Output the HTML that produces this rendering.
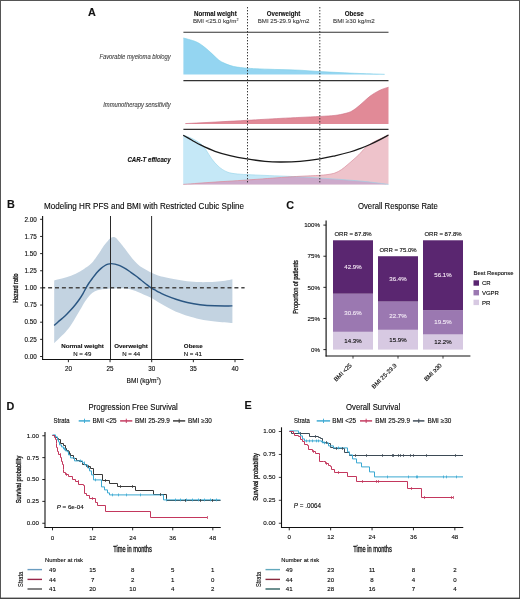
<!DOCTYPE html>
<html><head><meta charset="utf-8"><style>
html,body{margin:0;padding:0;background:#fff;width:520px;height:599px;overflow:hidden}
svg{display:block;font-family:"Liberation Sans", sans-serif;will-change:transform}
</style></head><body>
<svg width="520" height="599" viewBox="0 0 520 599">
<rect width="520" height="599" fill="#fff"/>
<text x="88.00" y="15.70" font-size="10.8" font-weight="bold" fill="#111" stroke="#111" stroke-width="0.12">A</text>
<text x="215.40" y="15.80" font-size="6.4" text-anchor="middle" font-weight="bold" fill="#111" stroke="#111" stroke-width="0.12" textLength="42.6" lengthAdjust="spacingAndGlyphs">Normal weight</text>
<text x="192.90" y="23.30" font-size="6.2" fill="#3a3a3a" stroke="#3a3a3a" stroke-width="0.1">BMI &lt;25.0 kg/m<tspan font-size="3.7" dy="-2.5">2</tspan></text>
<text x="283.50" y="15.80" font-size="6.4" text-anchor="middle" font-weight="bold" fill="#111" stroke="#111" stroke-width="0.12" textLength="33.4" lengthAdjust="spacingAndGlyphs">Overweight</text>
<text x="283.60" y="23.40" font-size="6.2" text-anchor="middle" fill="#3a3a3a" stroke="#3a3a3a" stroke-width="0.1" textLength="51.8" lengthAdjust="spacingAndGlyphs">BMI 25-29.9 kg/m2</text>
<text x="354.20" y="15.80" font-size="6.4" text-anchor="middle" font-weight="bold" fill="#111" stroke="#111" stroke-width="0.12" textLength="19.0" lengthAdjust="spacingAndGlyphs">Obese</text>
<text x="353.90" y="23.40" font-size="6.2" text-anchor="middle" fill="#3a3a3a" stroke="#3a3a3a" stroke-width="0.1" textLength="41.8" lengthAdjust="spacingAndGlyphs">BMI ≥30 kg/m2</text>
<text x="170.80" y="58.80" font-size="6.8" text-anchor="end" font-style="italic" fill="#3c3c3c" stroke="#3c3c3c" stroke-width="0.1" textLength="71.4" lengthAdjust="spacingAndGlyphs">Favorable myeloma biology</text>
<text x="170.80" y="107.40" font-size="6.8" text-anchor="end" font-style="italic" fill="#3c3c3c" stroke="#3c3c3c" stroke-width="0.1" textLength="67.6" lengthAdjust="spacingAndGlyphs">Immunotherapy sensitivity</text>
<text x="170.60" y="161.70" font-size="6.6" text-anchor="end" font-weight="bold" font-style="italic" fill="#111" stroke="#111" stroke-width="0.12" textLength="43.2" lengthAdjust="spacingAndGlyphs">CAR-T efficacy</text>
<path d="M183.40,38.00 C185.40,38.58 192.13,40.17 195.40,41.50 C198.67,42.83 200.43,44.15 203.00,46.00 C205.57,47.85 208.47,50.52 210.80,52.60 C213.13,54.68 214.97,56.83 217.00,58.50 C219.03,60.17 220.20,61.27 223.00,62.60 C225.80,63.93 229.68,65.57 233.80,66.50 C237.92,67.43 243.33,67.80 247.70,68.20 C252.07,68.60 254.62,68.67 260.00,68.90 C265.38,69.13 273.33,69.38 280.00,69.60 C286.67,69.82 293.33,69.87 300.00,70.20 C306.67,70.53 313.33,71.20 320.00,71.60 C326.67,72.00 333.33,72.28 340.00,72.60 C346.67,72.92 352.57,73.22 360.00,73.50 C367.43,73.78 380.50,74.17 384.60,74.30 L384.6,74.6 L183.4,74.6 Z" fill="#94d5f1" stroke="none" stroke-width="1" />
<path d="M183.40,38.00 C185.40,38.58 192.13,40.17 195.40,41.50 C198.67,42.83 200.43,44.15 203.00,46.00 C205.57,47.85 208.47,50.52 210.80,52.60 C213.13,54.68 214.97,56.83 217.00,58.50 C219.03,60.17 220.20,61.27 223.00,62.60 C225.80,63.93 229.68,65.57 233.80,66.50 C237.92,67.43 243.33,67.80 247.70,68.20 C252.07,68.60 254.62,68.67 260.00,68.90 C265.38,69.13 273.33,69.38 280.00,69.60 C286.67,69.82 293.33,69.87 300.00,70.20 C306.67,70.53 313.33,71.20 320.00,71.60 C326.67,72.00 333.33,72.28 340.00,72.60 C346.67,72.92 352.57,73.22 360.00,73.50 C367.43,73.78 380.50,74.17 384.60,74.30" fill="none" stroke="#78cce6" stroke-width="0.6" />
<path d="M185.40,123.60 C191.17,123.30 209.65,122.35 220.00,121.80 C230.35,121.25 237.50,120.87 247.50,120.30 C257.50,119.73 271.25,118.88 280.00,118.40 C288.75,117.92 293.33,117.73 300.00,117.40 C306.67,117.07 314.17,116.73 320.00,116.40 C325.83,116.07 330.83,115.88 335.00,115.40 C339.17,114.92 342.17,114.23 345.00,113.50 C347.83,112.77 349.50,112.42 352.00,111.00 C354.50,109.58 357.00,107.47 360.00,105.00 C363.00,102.53 366.67,98.67 370.00,96.20 C373.33,93.73 376.92,91.70 380.00,90.20 C383.08,88.70 387.08,87.70 388.50,87.20 L388.5,123.9 L185.4,123.9 Z" fill="#e18a97" stroke="none" stroke-width="1" />
<path d="M185.40,123.60 C191.17,123.30 209.65,122.35 220.00,121.80 C230.35,121.25 237.50,120.87 247.50,120.30 C257.50,119.73 271.25,118.88 280.00,118.40 C288.75,117.92 293.33,117.73 300.00,117.40 C306.67,117.07 314.17,116.73 320.00,116.40 C325.83,116.07 330.83,115.88 335.00,115.40 C339.17,114.92 342.17,114.23 345.00,113.50 C347.83,112.77 349.50,112.42 352.00,111.00 C354.50,109.58 357.00,107.47 360.00,105.00 C363.00,102.53 366.67,98.67 370.00,96.20 C373.33,93.73 376.92,91.70 380.00,90.20 C383.08,88.70 387.08,87.70 388.50,87.20" fill="none" stroke="#cc6a80" stroke-width="0.6" />
<defs><clipPath id="cb3"><path d="M183.20,135.20 C184.67,135.75 189.03,137.03 192.00,138.50 C194.97,139.97 198.67,142.08 201.00,144.00 C203.33,145.92 204.22,147.53 206.00,150.00 C207.78,152.47 209.87,156.30 211.70,158.80 C213.53,161.30 215.23,163.23 217.00,165.00 C218.77,166.77 220.47,168.18 222.30,169.40 C224.13,170.62 225.88,171.58 228.00,172.30 C230.12,173.02 231.83,173.32 235.00,173.70 C238.17,174.08 242.00,174.32 247.00,174.60 C252.00,174.88 258.67,175.13 265.00,175.40 C271.33,175.67 277.50,175.87 285.00,176.20 C292.50,176.53 300.83,176.87 310.00,177.40 C319.17,177.93 330.83,178.72 340.00,179.40 C349.17,180.08 356.92,180.67 365.00,181.50 C373.08,182.33 384.58,183.92 388.50,184.40 L388.5,184.6 L183.2,184.6 Z"/></clipPath></defs>
<path d="M183.20,135.20 C184.67,135.75 189.03,137.03 192.00,138.50 C194.97,139.97 198.67,142.08 201.00,144.00 C203.33,145.92 204.22,147.53 206.00,150.00 C207.78,152.47 209.87,156.30 211.70,158.80 C213.53,161.30 215.23,163.23 217.00,165.00 C218.77,166.77 220.47,168.18 222.30,169.40 C224.13,170.62 225.88,171.58 228.00,172.30 C230.12,173.02 231.83,173.32 235.00,173.70 C238.17,174.08 242.00,174.32 247.00,174.60 C252.00,174.88 258.67,175.13 265.00,175.40 C271.33,175.67 277.50,175.87 285.00,176.20 C292.50,176.53 300.83,176.87 310.00,177.40 C319.17,177.93 330.83,178.72 340.00,179.40 C349.17,180.08 356.92,180.67 365.00,181.50 C373.08,182.33 384.58,183.92 388.50,184.40 L388.5,184.6 L183.2,184.6 Z" fill="#c5e8f7" stroke="none" stroke-width="1" />
<path d="M183.20,184.40 C187.67,184.07 199.37,183.13 210.00,182.40 C220.63,181.67 234.50,180.87 247.00,180.00 C259.50,179.13 276.17,177.82 285.00,177.20 C293.83,176.58 294.17,176.62 300.00,176.30 C305.83,175.98 315.00,175.65 320.00,175.30 C325.00,174.95 327.33,174.65 330.00,174.20 C332.67,173.75 334.08,173.37 336.00,172.60 C337.92,171.83 339.67,170.83 341.50,169.60 C343.33,168.37 345.08,166.80 347.00,165.20 C348.92,163.60 351.03,161.73 353.00,160.00 C354.97,158.27 356.87,156.72 358.80,154.80 C360.73,152.88 362.98,150.10 364.60,148.50 C366.22,146.90 366.77,146.42 368.50,145.20 C370.23,143.98 372.92,142.32 375.00,141.20 C377.08,140.08 378.75,139.53 381.00,138.50 C383.25,137.47 387.25,135.58 388.50,135.00 L388.5,184.6 L183.2,184.6 Z" fill="#eec3cb" stroke="none" stroke-width="1" />
<path d="M183.20,184.40 C187.67,184.07 199.37,183.13 210.00,182.40 C220.63,181.67 234.50,180.87 247.00,180.00 C259.50,179.13 276.17,177.82 285.00,177.20 C293.83,176.58 294.17,176.62 300.00,176.30 C305.83,175.98 315.00,175.65 320.00,175.30 C325.00,174.95 327.33,174.65 330.00,174.20 C332.67,173.75 334.08,173.37 336.00,172.60 C337.92,171.83 339.67,170.83 341.50,169.60 C343.33,168.37 345.08,166.80 347.00,165.20 C348.92,163.60 351.03,161.73 353.00,160.00 C354.97,158.27 356.87,156.72 358.80,154.80 C360.73,152.88 362.98,150.10 364.60,148.50 C366.22,146.90 366.77,146.42 368.50,145.20 C370.23,143.98 372.92,142.32 375.00,141.20 C377.08,140.08 378.75,139.53 381.00,138.50 C383.25,137.47 387.25,135.58 388.50,135.00 L388.5,184.6 L183.2,184.6 Z" fill="#cdaacb" stroke="none" stroke-width="1" clip-path="url(#cb3)"/>
<path d="M183.20,135.20 C184.67,135.75 189.03,137.03 192.00,138.50 C194.97,139.97 198.67,142.08 201.00,144.00 C203.33,145.92 204.22,147.53 206.00,150.00 C207.78,152.47 209.87,156.30 211.70,158.80 C213.53,161.30 215.23,163.23 217.00,165.00 C218.77,166.77 220.47,168.18 222.30,169.40 C224.13,170.62 225.88,171.58 228.00,172.30 C230.12,173.02 231.83,173.32 235.00,173.70 C238.17,174.08 242.00,174.32 247.00,174.60 C252.00,174.88 258.67,175.13 265.00,175.40 C271.33,175.67 277.50,175.87 285.00,176.20 C292.50,176.53 300.83,176.87 310.00,177.40 C319.17,177.93 330.83,178.72 340.00,179.40 C349.17,180.08 356.92,180.67 365.00,181.50 C373.08,182.33 384.58,183.92 388.50,184.40" fill="none" stroke="#93d3ea" stroke-width="0.6" />
<path d="M183.20,184.40 C187.67,184.07 199.37,183.13 210.00,182.40 C220.63,181.67 234.50,180.87 247.00,180.00 C259.50,179.13 276.17,177.82 285.00,177.20 C293.83,176.58 294.17,176.62 300.00,176.30 C305.83,175.98 315.00,175.65 320.00,175.30 C325.00,174.95 327.33,174.65 330.00,174.20 C332.67,173.75 334.08,173.37 336.00,172.60 C337.92,171.83 339.67,170.83 341.50,169.60 C343.33,168.37 345.08,166.80 347.00,165.20 C348.92,163.60 351.03,161.73 353.00,160.00 C354.97,158.27 356.87,156.72 358.80,154.80 C360.73,152.88 362.98,150.10 364.60,148.50 C366.22,146.90 366.77,146.42 368.50,145.20 C370.23,143.98 372.92,142.32 375.00,141.20 C377.08,140.08 378.75,139.53 381.00,138.50 C383.25,137.47 387.25,135.58 388.50,135.00" fill="none" stroke="#d98c9c" stroke-width="0.7" />
<path d="M183.20,135.20 C184.67,136.03 189.03,138.53 192.00,140.20 C194.97,141.87 197.17,143.35 201.00,145.20 C204.83,147.05 210.17,149.57 215.00,151.30 C219.83,153.03 224.67,154.33 230.00,155.60 C235.33,156.87 241.17,157.95 247.00,158.90 C252.83,159.85 259.50,160.78 265.00,161.30 C270.50,161.82 274.17,161.98 280.00,162.00 C285.83,162.02 293.33,161.92 300.00,161.40 C306.67,160.88 314.17,159.83 320.00,158.90 C325.83,157.97 330.00,156.95 335.00,155.80 C340.00,154.65 345.83,153.20 350.00,152.00 C354.17,150.80 356.67,149.85 360.00,148.60 C363.33,147.35 366.67,146.00 370.00,144.50 C373.33,143.00 376.92,141.18 380.00,139.60 C383.08,138.02 387.08,135.77 388.50,135.00" fill="none" stroke="#1a1a1a" stroke-width="1.3" />
<line x1="183.40" y1="32.20" x2="388.50" y2="32.20" stroke="#333" stroke-width="1.15" />
<line x1="183.40" y1="80.60" x2="388.50" y2="80.60" stroke="#333" stroke-width="1.15" />
<line x1="183.40" y1="129.40" x2="388.50" y2="129.40" stroke="#333" stroke-width="1.15" />
<line x1="247.50" y1="7.00" x2="247.50" y2="184.00" stroke="#222" stroke-width="0.9" stroke-dasharray="1.4,1.6"/>
<line x1="319.80" y1="7.00" x2="319.80" y2="184.00" stroke="#222" stroke-width="0.9" stroke-dasharray="1.4,1.6"/>
<text x="7.00" y="208.30" font-size="10.8" font-weight="bold" fill="#111" stroke="#111" stroke-width="0.12">B</text>
<text x="44.00" y="209.10" font-size="8.3" stroke="#222" stroke-width="0.12" textLength="200" lengthAdjust="spacingAndGlyphs">Modeling HR PFS and BMI with Restricted Cubic Spline</text>
<path d="M54.20,280.40 C55.50,280.08 59.20,279.27 62.00,278.50 C64.80,277.73 68.00,276.97 71.00,275.80 C74.00,274.63 77.67,272.77 80.00,271.50 C82.33,270.23 83.67,269.07 85.00,268.20 C86.33,267.33 86.83,267.20 88.00,266.30 C89.17,265.40 90.55,264.43 92.00,262.80 C93.45,261.17 95.23,258.57 96.70,256.50 C98.17,254.43 99.58,252.23 100.80,250.40 C102.02,248.57 102.73,247.20 104.00,245.50 C105.27,243.80 107.23,241.48 108.40,240.20 C109.57,238.92 110.13,238.35 111.00,237.80 C111.87,237.25 112.77,236.88 113.60,236.90 C114.43,236.92 114.93,236.98 116.00,237.90 C117.07,238.82 118.50,240.60 120.00,242.40 C121.50,244.20 123.33,246.50 125.00,248.70 C126.67,250.90 128.33,253.45 130.00,255.60 C131.67,257.75 133.33,259.82 135.00,261.60 C136.67,263.38 138.17,264.93 140.00,266.30 C141.83,267.67 144.00,268.68 146.00,269.80 C148.00,270.92 150.00,272.05 152.00,273.00 C154.00,273.95 155.83,274.78 158.00,275.50 C160.17,276.22 162.17,276.67 165.00,277.30 C167.83,277.93 171.33,278.65 175.00,279.30 C178.67,279.95 182.83,280.73 187.00,281.20 C191.17,281.67 195.33,282.00 200.00,282.10 C204.67,282.20 210.83,282.02 215.00,281.80 C219.17,281.58 222.10,281.22 225.00,280.80 C227.90,280.38 231.17,279.55 232.40,279.30 L232.40,323.10 C229.50,322.85 220.40,322.23 215.00,321.60 C209.60,320.97 204.50,320.22 200.00,319.30 C195.50,318.38 191.00,316.98 188.00,316.10 C185.00,315.22 184.00,314.72 182.00,314.00 C180.00,313.28 177.83,312.58 176.00,311.80 C174.17,311.02 172.83,310.25 171.00,309.30 C169.17,308.35 167.17,307.32 165.00,306.10 C162.83,304.88 160.17,303.32 158.00,302.00 C155.83,300.68 154.00,299.27 152.00,298.20 C150.00,297.13 147.83,296.42 146.00,295.60 C144.17,294.78 142.83,294.10 141.00,293.30 C139.17,292.50 136.83,291.47 135.00,290.80 C133.17,290.13 131.67,289.68 130.00,289.30 C128.33,288.92 126.67,288.67 125.00,288.50 C123.33,288.33 121.67,288.32 120.00,288.30 C118.33,288.28 116.50,288.37 115.00,288.40 C113.50,288.43 112.67,288.38 111.00,288.50 C109.33,288.62 106.83,288.90 105.00,289.10 C103.17,289.30 101.67,289.33 100.00,289.70 C98.33,290.07 96.67,290.42 95.00,291.30 C93.33,292.18 91.67,293.32 90.00,295.00 C88.33,296.68 86.67,298.90 85.00,301.40 C83.33,303.90 81.67,307.15 80.00,310.00 C78.33,312.85 76.67,315.73 75.00,318.50 C73.33,321.27 71.50,324.45 70.00,326.60 C68.50,328.75 67.33,329.90 66.00,331.40 C64.67,332.90 63.33,334.23 62.00,335.60 C60.67,336.97 59.30,338.32 58.00,339.60 C56.70,340.88 54.83,342.68 54.20,343.30 Z" fill="#c3d3e1" stroke="none" stroke-width="1" />
<line x1="43.00" y1="287.75" x2="244.60" y2="287.75" stroke="#474747" stroke-width="1.45" stroke-dasharray="4,2.9" stroke-dashoffset="1.8"/>
<path d="M54.20,325.50 C54.83,324.92 56.58,323.25 58.00,322.00 C59.42,320.75 61.20,319.33 62.70,318.00 C64.20,316.67 65.58,315.40 67.00,314.00 C68.42,312.60 69.78,311.18 71.20,309.60 C72.62,308.02 74.10,306.27 75.50,304.50 C76.90,302.73 78.35,300.82 79.60,299.00 C80.85,297.18 81.93,295.43 83.00,293.60 C84.07,291.77 85.00,289.77 86.00,288.00 C87.00,286.23 87.95,284.58 89.00,283.00 C90.05,281.42 91.05,280.17 92.30,278.50 C93.55,276.83 95.08,274.65 96.50,273.00 C97.92,271.35 99.38,269.85 100.80,268.60 C102.22,267.35 103.80,266.25 105.00,265.50 C106.20,264.75 106.95,264.42 108.00,264.10 C109.05,263.78 110.13,263.60 111.30,263.60 C112.47,263.60 113.58,263.77 115.00,264.10 C116.42,264.43 118.13,264.90 119.80,265.60 C121.47,266.30 123.23,267.23 125.00,268.30 C126.77,269.37 128.57,270.72 130.40,272.00 C132.23,273.28 134.23,274.67 136.00,276.00 C137.77,277.33 139.33,278.67 141.00,280.00 C142.67,281.33 144.32,282.70 146.00,284.00 C147.68,285.30 149.43,286.70 151.10,287.80 C152.77,288.90 154.52,289.78 156.00,290.60 C157.48,291.42 158.30,291.87 160.00,292.70 C161.70,293.53 163.42,294.47 166.20,295.60 C168.98,296.73 173.18,298.35 176.70,299.50 C180.22,300.65 183.42,301.63 187.30,302.50 C191.18,303.37 195.42,304.15 200.00,304.70 C204.58,305.25 209.40,305.60 214.80,305.80 C220.20,306.00 229.47,305.88 232.40,305.90" fill="none" stroke="#2a5682" stroke-width="1.45" />
<line x1="110.50" y1="216.00" x2="110.50" y2="359.30" stroke="#2a2a2a" stroke-width="1.0" />
<line x1="151.60" y1="216.00" x2="151.60" y2="359.30" stroke="#2a2a2a" stroke-width="1.0" />
<line x1="42.60" y1="216.00" x2="42.60" y2="360.10" stroke="#111" stroke-width="1.1" />
<line x1="42.10" y1="359.50" x2="243.50" y2="359.50" stroke="#111" stroke-width="1.1" />
<line x1="40.10" y1="356.50" x2="42.60" y2="356.50" stroke="#111" stroke-width="0.9" />
<text x="36.70" y="358.70" font-size="6.3" text-anchor="end" stroke="#222" stroke-width="0.12">0.00</text>
<line x1="40.10" y1="339.35" x2="42.60" y2="339.35" stroke="#111" stroke-width="0.9" />
<text x="36.70" y="341.55" font-size="6.3" text-anchor="end" stroke="#222" stroke-width="0.12">0.25</text>
<line x1="40.10" y1="322.20" x2="42.60" y2="322.20" stroke="#111" stroke-width="0.9" />
<text x="36.70" y="324.40" font-size="6.3" text-anchor="end" stroke="#222" stroke-width="0.12">0.50</text>
<line x1="40.10" y1="305.05" x2="42.60" y2="305.05" stroke="#111" stroke-width="0.9" />
<text x="36.70" y="307.25" font-size="6.3" text-anchor="end" stroke="#222" stroke-width="0.12">0.75</text>
<line x1="40.10" y1="287.90" x2="42.60" y2="287.90" stroke="#111" stroke-width="0.9" />
<text x="36.70" y="290.10" font-size="6.3" text-anchor="end" stroke="#222" stroke-width="0.12">1.00</text>
<line x1="40.10" y1="270.75" x2="42.60" y2="270.75" stroke="#111" stroke-width="0.9" />
<text x="36.70" y="272.95" font-size="6.3" text-anchor="end" stroke="#222" stroke-width="0.12">1.25</text>
<line x1="40.10" y1="253.60" x2="42.60" y2="253.60" stroke="#111" stroke-width="0.9" />
<text x="36.70" y="255.80" font-size="6.3" text-anchor="end" stroke="#222" stroke-width="0.12">1.50</text>
<line x1="40.10" y1="236.45" x2="42.60" y2="236.45" stroke="#111" stroke-width="0.9" />
<text x="36.70" y="238.65" font-size="6.3" text-anchor="end" stroke="#222" stroke-width="0.12">1.75</text>
<line x1="40.10" y1="219.30" x2="42.60" y2="219.30" stroke="#111" stroke-width="0.9" />
<text x="36.70" y="221.50" font-size="6.3" text-anchor="end" stroke="#222" stroke-width="0.12">2.00</text>
<line x1="68.40" y1="359.50" x2="68.40" y2="362.20" stroke="#111" stroke-width="0.9" />
<text x="68.40" y="370.60" font-size="6.3" text-anchor="middle" stroke="#222" stroke-width="0.12">20</text>
<line x1="110.05" y1="359.50" x2="110.05" y2="362.20" stroke="#111" stroke-width="0.9" />
<text x="110.05" y="370.60" font-size="6.3" text-anchor="middle" stroke="#222" stroke-width="0.12">25</text>
<line x1="151.70" y1="359.50" x2="151.70" y2="362.20" stroke="#111" stroke-width="0.9" />
<text x="151.70" y="370.60" font-size="6.3" text-anchor="middle" stroke="#222" stroke-width="0.12">30</text>
<line x1="193.35" y1="359.50" x2="193.35" y2="362.20" stroke="#111" stroke-width="0.9" />
<text x="193.35" y="370.60" font-size="6.3" text-anchor="middle" stroke="#222" stroke-width="0.12">35</text>
<line x1="235.00" y1="359.50" x2="235.00" y2="362.20" stroke="#111" stroke-width="0.9" />
<text x="235.00" y="370.60" font-size="6.3" text-anchor="middle" stroke="#222" stroke-width="0.12">40</text>
<text x="82.50" y="348.00" font-size="6.2" text-anchor="middle" font-weight="bold" fill="#111" stroke="#111" stroke-width="0.12">Normal weight</text>
<text x="82.30" y="355.50" font-size="6.1" text-anchor="middle" stroke="#222" stroke-width="0.12">N = 49</text>
<text x="131.00" y="348.00" font-size="6.2" text-anchor="middle" font-weight="bold" fill="#111" stroke="#111" stroke-width="0.12">Overweight</text>
<text x="131.20" y="355.50" font-size="6.1" text-anchor="middle" stroke="#222" stroke-width="0.12">N = 44</text>
<text x="193.30" y="348.00" font-size="6.2" text-anchor="middle" font-weight="bold" fill="#111" stroke="#111" stroke-width="0.12">Obese</text>
<text x="192.80" y="355.50" font-size="6.1" text-anchor="middle" stroke="#222" stroke-width="0.12">N = 41</text>
<text x="143.80" y="382.60" font-size="6.6" text-anchor="middle" stroke="#222" stroke-width="0.12">BMI (kg/m<tspan font-size="4" dy="-2.6">2</tspan><tspan dy="2.6">)</tspan></text>
<text x="18.40" y="288.10" font-size="6.8" text-anchor="middle" stroke="#222" stroke-width="0.32" textLength="29.4" lengthAdjust="spacingAndGlyphs" transform="rotate(-90 18.40 288.10)">Hazard ratio</text>
<text x="286.20" y="208.80" font-size="10.8" font-weight="bold" fill="#111" stroke="#111" stroke-width="0.12">C</text>
<text x="358.00" y="209.00" font-size="8.3" stroke="#222" stroke-width="0.12" textLength="79.8" lengthAdjust="spacingAndGlyphs">Overall Response Rate</text>
<rect x="333.00" y="331.80" width="40.00" height="17.80" fill="#d7c9e2" />
<rect x="333.00" y="293.70" width="40.00" height="38.10" fill="#9b78b1" />
<rect x="333.00" y="240.29" width="40.00" height="53.41" fill="#5a2670" />
<text x="353.00" y="342.80" font-size="6.1" text-anchor="middle" stroke="#222" stroke-width="0.12">14.3%</text>
<text x="353.00" y="314.85" font-size="6.1" text-anchor="middle" fill="#f3eaf6" stroke="#f3eaf6" stroke-width="0.12">30.6%</text>
<text x="353.00" y="269.09" font-size="6.1" text-anchor="middle" fill="#f3e6f3" stroke="#f3e6f3" stroke-width="0.12">42.9%</text>
<text x="353.00" y="236.19" font-size="6" text-anchor="middle" stroke="#222" stroke-width="0.12">ORR = 87.8%</text>
<rect x="378.00" y="329.80" width="40.00" height="19.80" fill="#d7c9e2" />
<rect x="378.00" y="301.54" width="40.00" height="28.26" fill="#9b78b1" />
<rect x="378.00" y="256.23" width="40.00" height="45.32" fill="#5a2670" />
<text x="398.00" y="341.80" font-size="6.1" text-anchor="middle" stroke="#222" stroke-width="0.12">15.9%</text>
<text x="398.00" y="317.77" font-size="6.1" text-anchor="middle" fill="#f3eaf6" stroke="#f3eaf6" stroke-width="0.12">22.7%</text>
<text x="398.00" y="280.98" font-size="6.1" text-anchor="middle" fill="#f3e6f3" stroke="#f3e6f3" stroke-width="0.12">36.4%</text>
<text x="398.00" y="252.13" font-size="6" text-anchor="middle" stroke="#222" stroke-width="0.12">ORR = 75.0%</text>
<rect x="423.00" y="334.41" width="40.00" height="15.19" fill="#d7c9e2" />
<rect x="423.00" y="310.13" width="40.00" height="24.28" fill="#9b78b1" />
<rect x="423.00" y="240.29" width="40.00" height="69.84" fill="#5a2670" />
<text x="443.00" y="344.11" font-size="6.1" text-anchor="middle" stroke="#222" stroke-width="0.12">12.2%</text>
<text x="443.00" y="324.37" font-size="6.1" text-anchor="middle" fill="#f3eaf6" stroke="#f3eaf6" stroke-width="0.12">19.5%</text>
<text x="443.00" y="277.31" font-size="6.1" text-anchor="middle" fill="#f3e6f3" stroke="#f3e6f3" stroke-width="0.12">56.1%</text>
<text x="443.00" y="236.19" font-size="6" text-anchor="middle" stroke="#222" stroke-width="0.12">ORR = 87.8%</text>
<line x1="326.10" y1="220.40" x2="326.10" y2="356.60" stroke="#111" stroke-width="1.15" />
<line x1="325.60" y1="356.00" x2="470.40" y2="356.00" stroke="#111" stroke-width="1.15" />
<line x1="323.40" y1="349.60" x2="326.10" y2="349.60" stroke="#111" stroke-width="0.9" />
<text x="320.00" y="351.80" font-size="6.2" text-anchor="end" stroke="#222" stroke-width="0.12">0%</text>
<line x1="323.40" y1="318.48" x2="326.10" y2="318.48" stroke="#111" stroke-width="0.9" />
<text x="320.00" y="320.68" font-size="6.2" text-anchor="end" stroke="#222" stroke-width="0.12">25%</text>
<line x1="323.40" y1="287.35" x2="326.10" y2="287.35" stroke="#111" stroke-width="0.9" />
<text x="320.00" y="289.55" font-size="6.2" text-anchor="end" stroke="#222" stroke-width="0.12">50%</text>
<line x1="323.40" y1="256.23" x2="326.10" y2="256.23" stroke="#111" stroke-width="0.9" />
<text x="320.00" y="258.43" font-size="6.2" text-anchor="end" stroke="#222" stroke-width="0.12">75%</text>
<line x1="323.40" y1="225.10" x2="326.10" y2="225.10" stroke="#111" stroke-width="0.9" />
<text x="320.00" y="227.30" font-size="6.2" text-anchor="end" stroke="#222" stroke-width="0.12">100%</text>
<line x1="353.00" y1="356.00" x2="353.00" y2="358.60" stroke="#111" stroke-width="0.8" />
<text x="352.20" y="365.80" font-size="6" text-anchor="end" stroke="#222" stroke-width="0.12" transform="rotate(-45 352.20 365.80)">BMI &lt;25</text>
<line x1="398.00" y1="356.00" x2="398.00" y2="358.60" stroke="#111" stroke-width="0.8" />
<text x="397.20" y="365.80" font-size="6" text-anchor="end" stroke="#222" stroke-width="0.12" transform="rotate(-45 397.20 365.80)">BMI 25-29.9</text>
<line x1="443.00" y1="356.00" x2="443.00" y2="358.60" stroke="#111" stroke-width="0.8" />
<text x="442.20" y="365.80" font-size="6" text-anchor="end" stroke="#222" stroke-width="0.12" transform="rotate(-45 442.20 365.80)">BMI ≥30</text>
<text x="297.70" y="286.90" font-size="6.8" text-anchor="middle" stroke="#222" stroke-width="0.32" textLength="53.7" lengthAdjust="spacingAndGlyphs" transform="rotate(-90 297.70 286.90)">Proportion of patients</text>
<text x="473.50" y="274.60" font-size="5.9" stroke="#222" stroke-width="0.12">Best Response</text>
<rect x="473.50" y="280.30" width="5.50" height="5.40" fill="#5a2670" />
<text x="481.90" y="285.10" font-size="6" stroke="#222" stroke-width="0.12">CR</text>
<rect x="473.50" y="290.00" width="5.50" height="5.40" fill="#9b78b1" />
<text x="481.90" y="294.80" font-size="6" stroke="#222" stroke-width="0.12">VGPR</text>
<rect x="473.50" y="299.70" width="5.50" height="5.40" fill="#d7c9e2" />
<text x="481.90" y="304.50" font-size="6" stroke="#222" stroke-width="0.12">PR</text>
<text x="6.50" y="410.00" font-size="10.8" font-weight="bold" fill="#111" stroke="#111" stroke-width="0.12">D</text>
<text x="88.60" y="409.70" font-size="8.3" stroke="#222" stroke-width="0.12" textLength="89.2" lengthAdjust="spacingAndGlyphs">Progression Free Survival</text>
<text x="53.60" y="423.00" font-size="6.6" stroke="#222" stroke-width="0.12" textLength="15.9" lengthAdjust="spacingAndGlyphs">Strata</text>
<line x1="78.70" y1="420.90" x2="90.10" y2="420.90" stroke="#3aa8d2" stroke-width="1.45" />
<line x1="84.50" y1="418.70" x2="84.50" y2="423.00" stroke="#3aa8d2" stroke-width="0.9" />
<text x="92.60" y="422.90" font-size="6.4" stroke="#222" stroke-width="0.12">BMI &lt;25</text>
<line x1="120.10" y1="420.90" x2="132.30" y2="420.90" stroke="#c3375d" stroke-width="1.45" />
<line x1="126.30" y1="418.70" x2="126.30" y2="423.00" stroke="#c3375d" stroke-width="0.9" />
<text x="135.10" y="422.90" font-size="6.4" stroke="#222" stroke-width="0.12">BMI 25-29.9</text>
<line x1="173.00" y1="420.90" x2="185.20" y2="420.90" stroke="#383838" stroke-width="1.45" />
<line x1="179.20" y1="418.70" x2="179.20" y2="423.00" stroke="#383838" stroke-width="0.9" />
<text x="188.00" y="422.90" font-size="6.4" stroke="#222" stroke-width="0.12">BMI ≥30</text>
<line x1="45.00" y1="431.90" x2="45.00" y2="528.00" stroke="#111" stroke-width="1.1" />
<line x1="44.50" y1="527.50" x2="220.75" y2="527.50" stroke="#111" stroke-width="1.1" />
<line x1="42.30" y1="523.25" x2="45.00" y2="523.25" stroke="#111" stroke-width="0.9" />
<text x="38.90" y="525.15" font-size="6.2" text-anchor="end" stroke="#222" stroke-width="0.12">0.00</text>
<line x1="42.30" y1="501.38" x2="45.00" y2="501.38" stroke="#111" stroke-width="0.9" />
<text x="38.90" y="503.27" font-size="6.2" text-anchor="end" stroke="#222" stroke-width="0.12">0.25</text>
<line x1="42.30" y1="479.50" x2="45.00" y2="479.50" stroke="#111" stroke-width="0.9" />
<text x="38.90" y="481.40" font-size="6.2" text-anchor="end" stroke="#222" stroke-width="0.12">0.50</text>
<line x1="42.30" y1="457.62" x2="45.00" y2="457.62" stroke="#111" stroke-width="0.9" />
<text x="38.90" y="459.52" font-size="6.2" text-anchor="end" stroke="#222" stroke-width="0.12">0.75</text>
<line x1="42.30" y1="435.75" x2="45.00" y2="435.75" stroke="#111" stroke-width="0.9" />
<text x="38.90" y="437.65" font-size="6.2" text-anchor="end" stroke="#222" stroke-width="0.12">1.00</text>
<line x1="52.50" y1="527.50" x2="52.50" y2="530.30" stroke="#111" stroke-width="0.9" />
<text x="52.50" y="539.60" font-size="6.2" text-anchor="middle" stroke="#222" stroke-width="0.12">0</text>
<line x1="92.58" y1="527.50" x2="92.58" y2="530.30" stroke="#111" stroke-width="0.9" />
<text x="92.58" y="539.60" font-size="6.2" text-anchor="middle" stroke="#222" stroke-width="0.12">12</text>
<line x1="132.66" y1="527.50" x2="132.66" y2="530.30" stroke="#111" stroke-width="0.9" />
<text x="132.66" y="539.60" font-size="6.2" text-anchor="middle" stroke="#222" stroke-width="0.12">24</text>
<line x1="172.74" y1="527.50" x2="172.74" y2="530.30" stroke="#111" stroke-width="0.9" />
<text x="172.74" y="539.60" font-size="6.2" text-anchor="middle" stroke="#222" stroke-width="0.12">36</text>
<line x1="212.82" y1="527.50" x2="212.82" y2="530.30" stroke="#111" stroke-width="0.9" />
<text x="212.82" y="539.60" font-size="6.2" text-anchor="middle" stroke="#222" stroke-width="0.12">48</text>
<text x="132.60" y="551.50" font-size="8.2" text-anchor="middle" stroke="#222" stroke-width="0.32" textLength="38.5" lengthAdjust="spacingAndGlyphs">Time in months</text>
<text x="21.30" y="479.50" font-size="6.8" text-anchor="middle" stroke="#222" stroke-width="0.32" textLength="47.5" lengthAdjust="spacingAndGlyphs" transform="rotate(-90 21.30 479.50)">Survival probability</text>
<text x="56.70" y="508.80" font-size="6.2" stroke="#222" stroke-width="0.12"><tspan font-style="italic">P</tspan> = 6e-04</text>
<path d="M52.50,435.50 H55.50 V437.50 H57.50 V438.50 H58.50 V439.50 H60.50 V443.50 H63.50 V445.50 H65.50 V448.50 H66.50 V450.50 H68.50 V451.50 H69.50 V454.50 H70.50 V455.50 H73.50 V458.50 H76.50 V460.50 H79.50 V461.50 H82.50 V464.50 H86.50 V466.50 H90.50 V468.50 H93.50 V474.50 H102.50 V480.50 H109.50 V483.50 H117.50 V486.50 H135.50 V490.50 H153.50 V494.50 H166.50 V500.50 H220.50" fill="none" stroke="#383838" stroke-width="1.0" />
<path d="M52.50,434.90 H55.50 V436.90 H57.50 V439.90 H58.50 V441.90 H59.50 V444.90 H61.50 V446.90 H63.50 V448.90 H65.50 V450.90 H67.50 V451.90 H68.50 V454.90 H70.50 V457.90 H74.50 V460.90 H81.50 V460.90 H82.50 V462.90 H84.50 V464.90 H87.50 V467.90 H89.50 V470.90 H91.50 V474.90 H93.50 V479.90 H101.50 V486.90 H104.50 V489.90 H107.50 V492.90 H109.50 V494.90 H163.50 V499.90 H220.50" fill="none" stroke="#3aa8d2" stroke-width="1.0" />
<path d="M52.50,435.50 H54.50 V437.50 H55.50 V439.50 H56.50 V443.50 H56.50 V447.50 H57.50 V451.50 H58.50 V454.50 H60.50 V457.50 H61.50 V461.50 H62.50 V464.50 H63.50 V469.50 H63.50 V472.50 H65.50 V474.50 H68.50 V476.50 H72.50 V479.50 H75.50 V481.50 H78.50 V484.50 H83.50 V485.50 H84.50 V493.50 H86.50 V495.50 H89.50 V498.50 H95.50 V502.50 H97.50 V505.50 H105.50 V511.50 H150.50 V517.50 H207.00" fill="none" stroke="#c3375d" stroke-width="1.0" />
<line x1="64.50" y1="447.50" x2="64.50" y2="450.30" stroke="#3aa8d2" stroke-width="0.8" />
<line x1="80.50" y1="459.50" x2="80.50" y2="462.30" stroke="#3aa8d2" stroke-width="0.8" />
<line x1="84.50" y1="461.50" x2="84.50" y2="464.30" stroke="#3aa8d2" stroke-width="0.8" />
<line x1="95.50" y1="478.50" x2="95.50" y2="481.30" stroke="#3aa8d2" stroke-width="0.8" />
<line x1="112.50" y1="493.50" x2="112.50" y2="496.30" stroke="#3aa8d2" stroke-width="0.8" />
<line x1="118.50" y1="493.50" x2="118.50" y2="496.30" stroke="#3aa8d2" stroke-width="0.8" />
<line x1="126.50" y1="493.50" x2="126.50" y2="496.30" stroke="#3aa8d2" stroke-width="0.8" />
<line x1="140.50" y1="493.50" x2="140.50" y2="496.30" stroke="#3aa8d2" stroke-width="0.8" />
<line x1="166.50" y1="498.50" x2="166.50" y2="501.30" stroke="#3aa8d2" stroke-width="0.8" />
<line x1="175.50" y1="498.50" x2="175.50" y2="501.30" stroke="#3aa8d2" stroke-width="0.8" />
<line x1="180.50" y1="498.50" x2="180.50" y2="501.30" stroke="#3aa8d2" stroke-width="0.8" />
<line x1="186.50" y1="498.50" x2="186.50" y2="501.30" stroke="#3aa8d2" stroke-width="0.8" />
<line x1="192.50" y1="498.50" x2="192.50" y2="501.30" stroke="#3aa8d2" stroke-width="0.8" />
<line x1="198.50" y1="498.50" x2="198.50" y2="501.30" stroke="#3aa8d2" stroke-width="0.8" />
<line x1="204.50" y1="498.50" x2="204.50" y2="501.30" stroke="#3aa8d2" stroke-width="0.8" />
<line x1="210.50" y1="498.50" x2="210.50" y2="501.30" stroke="#3aa8d2" stroke-width="0.8" />
<line x1="216.50" y1="498.50" x2="216.50" y2="501.30" stroke="#3aa8d2" stroke-width="0.8" />
<line x1="70.50" y1="453.10" x2="70.50" y2="455.90" stroke="#383838" stroke-width="0.8" />
<line x1="88.50" y1="465.10" x2="88.50" y2="467.90" stroke="#383838" stroke-width="0.8" />
<line x1="105.50" y1="479.10" x2="105.50" y2="481.90" stroke="#383838" stroke-width="0.8" />
<line x1="120.50" y1="485.10" x2="120.50" y2="487.90" stroke="#383838" stroke-width="0.8" />
<line x1="132.50" y1="485.10" x2="132.50" y2="487.90" stroke="#383838" stroke-width="0.8" />
<line x1="160.50" y1="493.10" x2="160.50" y2="495.90" stroke="#383838" stroke-width="0.8" />
<line x1="185.50" y1="499.10" x2="185.50" y2="501.90" stroke="#383838" stroke-width="0.8" />
<line x1="200.50" y1="499.10" x2="200.50" y2="501.90" stroke="#383838" stroke-width="0.8" />
<line x1="212.50" y1="499.10" x2="212.50" y2="501.90" stroke="#383838" stroke-width="0.8" />
<line x1="60.50" y1="453.10" x2="60.50" y2="455.90" stroke="#c3375d" stroke-width="0.8" />
<line x1="66.50" y1="473.10" x2="66.50" y2="475.90" stroke="#c3375d" stroke-width="0.8" />
<line x1="78.50" y1="480.10" x2="78.50" y2="482.90" stroke="#c3375d" stroke-width="0.8" />
<line x1="92.50" y1="497.10" x2="92.50" y2="499.90" stroke="#c3375d" stroke-width="0.8" />
<line x1="207.50" y1="516.10" x2="207.50" y2="518.90" stroke="#c3375d" stroke-width="0.8" />
<text x="45.00" y="562.00" font-size="5.85" stroke="#222" stroke-width="0.12">Number at risk</text>
<text x="23.00" y="579.30" font-size="6.3" text-anchor="middle" stroke="#222" stroke-width="0.1" textLength="15.2" lengthAdjust="spacingAndGlyphs" transform="rotate(-90 23.00 579.30)">Strata</text>
<line x1="27.50" y1="569.60" x2="42.00" y2="569.60" stroke="#6a9cc0" stroke-width="1.4" />
<text x="52.50" y="571.70" font-size="6.1" text-anchor="middle" stroke="#222" stroke-width="0.12">49</text>
<text x="92.58" y="571.70" font-size="6.1" text-anchor="middle" stroke="#222" stroke-width="0.12">15</text>
<text x="132.66" y="571.70" font-size="6.1" text-anchor="middle" stroke="#222" stroke-width="0.12">8</text>
<text x="172.74" y="571.70" font-size="6.1" text-anchor="middle" stroke="#222" stroke-width="0.12">5</text>
<text x="212.82" y="571.70" font-size="6.1" text-anchor="middle" stroke="#222" stroke-width="0.12">1</text>
<line x1="27.50" y1="579.40" x2="42.00" y2="579.40" stroke="#98264a" stroke-width="1.4" />
<text x="52.50" y="581.50" font-size="6.1" text-anchor="middle" stroke="#222" stroke-width="0.12">44</text>
<text x="92.58" y="581.50" font-size="6.1" text-anchor="middle" stroke="#222" stroke-width="0.12">7</text>
<text x="132.66" y="581.50" font-size="6.1" text-anchor="middle" stroke="#222" stroke-width="0.12">2</text>
<text x="172.74" y="581.50" font-size="6.1" text-anchor="middle" stroke="#222" stroke-width="0.12">1</text>
<text x="212.82" y="581.50" font-size="6.1" text-anchor="middle" stroke="#222" stroke-width="0.12">0</text>
<line x1="27.50" y1="589.00" x2="42.00" y2="589.00" stroke="#505050" stroke-width="1.4" />
<text x="52.50" y="591.10" font-size="6.1" text-anchor="middle" stroke="#222" stroke-width="0.12">41</text>
<text x="92.58" y="591.10" font-size="6.1" text-anchor="middle" stroke="#222" stroke-width="0.12">20</text>
<text x="132.66" y="591.10" font-size="6.1" text-anchor="middle" stroke="#222" stroke-width="0.12">10</text>
<text x="172.74" y="591.10" font-size="6.1" text-anchor="middle" stroke="#222" stroke-width="0.12">4</text>
<text x="212.82" y="591.10" font-size="6.1" text-anchor="middle" stroke="#222" stroke-width="0.12">2</text>
<text x="244.40" y="409.40" font-size="10.8" font-weight="bold" fill="#111" stroke="#111" stroke-width="0.12">E</text>
<text x="346.00" y="409.70" font-size="8.3" stroke="#222" stroke-width="0.12" textLength="54.2" lengthAdjust="spacingAndGlyphs">Overall Survival</text>
<text x="294.00" y="423.00" font-size="6.6" stroke="#222" stroke-width="0.12" textLength="15.9" lengthAdjust="spacingAndGlyphs">Strata</text>
<line x1="316.70" y1="420.90" x2="330.10" y2="420.90" stroke="#3aa8d2" stroke-width="1.45" />
<line x1="323.50" y1="418.70" x2="323.50" y2="423.00" stroke="#3aa8d2" stroke-width="0.9" />
<text x="332.20" y="422.90" font-size="6.4" stroke="#222" stroke-width="0.12">BMI &lt;25</text>
<line x1="360.00" y1="420.90" x2="372.10" y2="420.90" stroke="#c3375d" stroke-width="1.45" />
<line x1="366.15" y1="418.70" x2="366.15" y2="423.00" stroke="#c3375d" stroke-width="0.9" />
<text x="375.20" y="422.90" font-size="6.4" stroke="#222" stroke-width="0.12">BMI 25-29.9</text>
<line x1="412.90" y1="420.90" x2="424.40" y2="420.90" stroke="#3d4a55" stroke-width="1.45" />
<line x1="418.75" y1="418.70" x2="418.75" y2="423.00" stroke="#3d4a55" stroke-width="0.9" />
<text x="427.50" y="422.90" font-size="6.4" stroke="#222" stroke-width="0.12">BMI ≥30</text>
<line x1="281.50" y1="427.30" x2="281.50" y2="528.00" stroke="#111" stroke-width="1.1" />
<line x1="281.00" y1="527.50" x2="463.25" y2="527.50" stroke="#111" stroke-width="1.1" />
<line x1="278.80" y1="523.25" x2="281.50" y2="523.25" stroke="#111" stroke-width="0.8" />
<text x="275.40" y="525.05" font-size="6.2" text-anchor="end" stroke="#222" stroke-width="0.12">0.00</text>
<line x1="278.80" y1="500.31" x2="281.50" y2="500.31" stroke="#111" stroke-width="0.8" />
<text x="275.40" y="502.11" font-size="6.2" text-anchor="end" stroke="#222" stroke-width="0.12">0.25</text>
<line x1="278.80" y1="477.38" x2="281.50" y2="477.38" stroke="#111" stroke-width="0.8" />
<text x="275.40" y="479.18" font-size="6.2" text-anchor="end" stroke="#222" stroke-width="0.12">0.50</text>
<line x1="278.80" y1="454.44" x2="281.50" y2="454.44" stroke="#111" stroke-width="0.8" />
<text x="275.40" y="456.24" font-size="6.2" text-anchor="end" stroke="#222" stroke-width="0.12">0.75</text>
<line x1="278.80" y1="431.50" x2="281.50" y2="431.50" stroke="#111" stroke-width="0.8" />
<text x="275.40" y="433.30" font-size="6.2" text-anchor="end" stroke="#222" stroke-width="0.12">1.00</text>
<line x1="289.25" y1="527.50" x2="289.25" y2="530.30" stroke="#111" stroke-width="0.9" />
<text x="289.25" y="539.20" font-size="6.2" text-anchor="middle" stroke="#222" stroke-width="0.12">0</text>
<line x1="330.65" y1="527.50" x2="330.65" y2="530.30" stroke="#111" stroke-width="0.9" />
<text x="330.65" y="539.20" font-size="6.2" text-anchor="middle" stroke="#222" stroke-width="0.12">12</text>
<line x1="372.05" y1="527.50" x2="372.05" y2="530.30" stroke="#111" stroke-width="0.9" />
<text x="372.05" y="539.20" font-size="6.2" text-anchor="middle" stroke="#222" stroke-width="0.12">24</text>
<line x1="413.45" y1="527.50" x2="413.45" y2="530.30" stroke="#111" stroke-width="0.9" />
<text x="413.45" y="539.20" font-size="6.2" text-anchor="middle" stroke="#222" stroke-width="0.12">36</text>
<line x1="454.85" y1="527.50" x2="454.85" y2="530.30" stroke="#111" stroke-width="0.9" />
<text x="454.85" y="539.20" font-size="6.2" text-anchor="middle" stroke="#222" stroke-width="0.12">48</text>
<text x="372.60" y="551.50" font-size="8.2" text-anchor="middle" stroke="#222" stroke-width="0.32" textLength="38.5" lengthAdjust="spacingAndGlyphs">Time in months</text>
<text x="258.00" y="477.00" font-size="6.8" text-anchor="middle" stroke="#222" stroke-width="0.32" textLength="47.5" lengthAdjust="spacingAndGlyphs" transform="rotate(-90 258.00 477.00)">Survival probability</text>
<text x="293.75" y="507.80" font-size="6.3" stroke="#222" stroke-width="0.12"><tspan font-style="italic">P</tspan> = .0064</text>
<path d="M289.50,431.50 H291.50 V433.50 H309.50 V436.50 H318.50 V437.50 H320.50 V438.50 H322.50 V442.50 H327.50 V443.50 H330.50 V447.50 H333.50 V448.50 H344.50 V452.50 H349.50 V455.50 H463.00" fill="none" stroke="#3d4a55" stroke-width="1.0" />
<path d="M289.50,430.90 H298.50 V432.90 H300.50 V435.90 H302.50 V438.90 H304.50 V440.90 H321.50 V441.90 H323.50 V442.90 H328.50 V445.90 H333.50 V447.90 H347.50 V451.90 H349.50 V454.90 H352.50 V458.90 H356.50 V462.90 H361.50 V466.90 H369.50 V471.90 H374.50 V476.90 H463.00" fill="none" stroke="#3aa8d2" stroke-width="1.0" />
<path d="M289.50,431.50 H293.50 V433.50 H294.50 V435.50 H298.50 V436.50 H300.50 V439.50 H302.50 V441.50 H304.50 V444.50 H307.50 V445.50 H308.50 V449.50 H312.50 V451.50 H315.50 V453.50 H319.50 V455.50 H319.50 V461.50 H323.50 V461.50 H325.50 V463.50 H328.50 V465.50 H330.50 V466.50 H331.50 V469.50 H334.50 V472.50 H347.50 V476.50 H356.50 V481.50 H407.50 V488.50 H421.50 V497.50 H453.00" fill="none" stroke="#c3375d" stroke-width="1.0" />
<line x1="300.50" y1="432.10" x2="300.50" y2="434.90" stroke="#3d4a55" stroke-width="0.8" />
<line x1="315.50" y1="435.10" x2="315.50" y2="437.90" stroke="#3d4a55" stroke-width="0.8" />
<line x1="326.50" y1="441.10" x2="326.50" y2="443.90" stroke="#3d4a55" stroke-width="0.8" />
<line x1="336.50" y1="447.10" x2="336.50" y2="449.90" stroke="#3d4a55" stroke-width="0.8" />
<line x1="342.50" y1="447.10" x2="342.50" y2="449.90" stroke="#3d4a55" stroke-width="0.8" />
<line x1="355.50" y1="454.10" x2="355.50" y2="456.90" stroke="#3d4a55" stroke-width="0.8" />
<line x1="366.50" y1="454.10" x2="366.50" y2="456.90" stroke="#3d4a55" stroke-width="0.8" />
<line x1="382.50" y1="454.10" x2="382.50" y2="456.90" stroke="#3d4a55" stroke-width="0.8" />
<line x1="392.50" y1="454.10" x2="392.50" y2="456.90" stroke="#3d4a55" stroke-width="0.8" />
<line x1="393.50" y1="454.10" x2="393.50" y2="456.90" stroke="#3d4a55" stroke-width="0.8" />
<line x1="398.50" y1="454.10" x2="398.50" y2="456.90" stroke="#3d4a55" stroke-width="0.8" />
<line x1="400.50" y1="454.10" x2="400.50" y2="456.90" stroke="#3d4a55" stroke-width="0.8" />
<line x1="403.50" y1="454.10" x2="403.50" y2="456.90" stroke="#3d4a55" stroke-width="0.8" />
<line x1="410.50" y1="454.10" x2="410.50" y2="456.90" stroke="#3d4a55" stroke-width="0.8" />
<line x1="413.50" y1="454.10" x2="413.50" y2="456.90" stroke="#3d4a55" stroke-width="0.8" />
<line x1="426.50" y1="454.10" x2="426.50" y2="456.90" stroke="#3d4a55" stroke-width="0.8" />
<line x1="455.50" y1="454.10" x2="455.50" y2="456.90" stroke="#3d4a55" stroke-width="0.8" />
<line x1="306.50" y1="439.50" x2="306.50" y2="442.30" stroke="#3aa8d2" stroke-width="0.8" />
<line x1="309.50" y1="439.50" x2="309.50" y2="442.30" stroke="#3aa8d2" stroke-width="0.8" />
<line x1="312.50" y1="439.50" x2="312.50" y2="442.30" stroke="#3aa8d2" stroke-width="0.8" />
<line x1="316.50" y1="439.50" x2="316.50" y2="442.30" stroke="#3aa8d2" stroke-width="0.8" />
<line x1="318.50" y1="439.50" x2="318.50" y2="442.30" stroke="#3aa8d2" stroke-width="0.8" />
<line x1="322.50" y1="440.50" x2="322.50" y2="443.30" stroke="#3aa8d2" stroke-width="0.8" />
<line x1="324.50" y1="441.50" x2="324.50" y2="444.30" stroke="#3aa8d2" stroke-width="0.8" />
<line x1="338.50" y1="446.50" x2="338.50" y2="449.30" stroke="#3aa8d2" stroke-width="0.8" />
<line x1="387.50" y1="475.50" x2="387.50" y2="478.30" stroke="#3aa8d2" stroke-width="0.8" />
<line x1="408.50" y1="475.50" x2="408.50" y2="478.30" stroke="#3aa8d2" stroke-width="0.8" />
<line x1="416.50" y1="475.50" x2="416.50" y2="478.30" stroke="#3aa8d2" stroke-width="0.8" />
<line x1="417.50" y1="475.50" x2="417.50" y2="478.30" stroke="#3aa8d2" stroke-width="0.8" />
<line x1="443.50" y1="475.50" x2="443.50" y2="478.30" stroke="#3aa8d2" stroke-width="0.8" />
<line x1="446.50" y1="475.50" x2="446.50" y2="478.30" stroke="#3aa8d2" stroke-width="0.8" />
<line x1="456.50" y1="475.50" x2="456.50" y2="478.30" stroke="#3aa8d2" stroke-width="0.8" />
<line x1="313.50" y1="450.10" x2="313.50" y2="452.90" stroke="#c3375d" stroke-width="0.8" />
<line x1="326.50" y1="462.10" x2="326.50" y2="464.90" stroke="#c3375d" stroke-width="0.8" />
<line x1="338.50" y1="471.10" x2="338.50" y2="473.90" stroke="#c3375d" stroke-width="0.8" />
<line x1="362.50" y1="480.10" x2="362.50" y2="482.90" stroke="#c3375d" stroke-width="0.8" />
<line x1="376.50" y1="480.10" x2="376.50" y2="482.90" stroke="#c3375d" stroke-width="0.8" />
<line x1="378.50" y1="480.10" x2="378.50" y2="482.90" stroke="#c3375d" stroke-width="0.8" />
<line x1="411.50" y1="487.10" x2="411.50" y2="489.90" stroke="#c3375d" stroke-width="0.8" />
<line x1="424.50" y1="496.10" x2="424.50" y2="498.90" stroke="#c3375d" stroke-width="0.8" />
<line x1="451.50" y1="496.10" x2="451.50" y2="498.90" stroke="#c3375d" stroke-width="0.8" />
<line x1="453.50" y1="496.10" x2="453.50" y2="498.90" stroke="#c3375d" stroke-width="0.8" />
<text x="281.25" y="562.00" font-size="5.85" stroke="#222" stroke-width="0.12">Number at risk</text>
<text x="261.20" y="579.40" font-size="6.3" text-anchor="middle" stroke="#222" stroke-width="0.1" textLength="15.4" lengthAdjust="spacingAndGlyphs" transform="rotate(-90 261.20 579.40)">Strata</text>
<line x1="265.50" y1="569.60" x2="280.00" y2="569.60" stroke="#62a8bc" stroke-width="1.4" />
<text x="289.25" y="571.70" font-size="6.1" text-anchor="middle" stroke="#222" stroke-width="0.12">49</text>
<text x="330.65" y="571.70" font-size="6.1" text-anchor="middle" stroke="#222" stroke-width="0.12">23</text>
<text x="372.05" y="571.70" font-size="6.1" text-anchor="middle" stroke="#222" stroke-width="0.12">11</text>
<text x="413.45" y="571.70" font-size="6.1" text-anchor="middle" stroke="#222" stroke-width="0.12">8</text>
<text x="454.85" y="571.70" font-size="6.1" text-anchor="middle" stroke="#222" stroke-width="0.12">2</text>
<line x1="265.50" y1="579.40" x2="280.00" y2="579.40" stroke="#8a2a3e" stroke-width="1.4" />
<text x="289.25" y="581.50" font-size="6.1" text-anchor="middle" stroke="#222" stroke-width="0.12">44</text>
<text x="330.65" y="581.50" font-size="6.1" text-anchor="middle" stroke="#222" stroke-width="0.12">20</text>
<text x="372.05" y="581.50" font-size="6.1" text-anchor="middle" stroke="#222" stroke-width="0.12">8</text>
<text x="413.45" y="581.50" font-size="6.1" text-anchor="middle" stroke="#222" stroke-width="0.12">4</text>
<text x="454.85" y="581.50" font-size="6.1" text-anchor="middle" stroke="#222" stroke-width="0.12">0</text>
<line x1="265.50" y1="589.00" x2="280.00" y2="589.00" stroke="#2f6060" stroke-width="1.4" />
<text x="289.25" y="591.10" font-size="6.1" text-anchor="middle" stroke="#222" stroke-width="0.12">41</text>
<text x="330.65" y="591.10" font-size="6.1" text-anchor="middle" stroke="#222" stroke-width="0.12">28</text>
<text x="372.05" y="591.10" font-size="6.1" text-anchor="middle" stroke="#222" stroke-width="0.12">16</text>
<text x="413.45" y="591.10" font-size="6.1" text-anchor="middle" stroke="#222" stroke-width="0.12">7</text>
<text x="454.85" y="591.10" font-size="6.1" text-anchor="middle" stroke="#222" stroke-width="0.12">4</text>
<rect x="0.00" y="0.00" width="520.00" height="1.00" fill="#555" />
<rect x="0.00" y="0.00" width="1.00" height="599.00" fill="#555" />
<rect x="519.00" y="0.00" width="1.00" height="599.00" fill="#555" />
<rect x="0.00" y="597.60" width="520.00" height="1.40" fill="#444" />
</svg>
</body></html>
